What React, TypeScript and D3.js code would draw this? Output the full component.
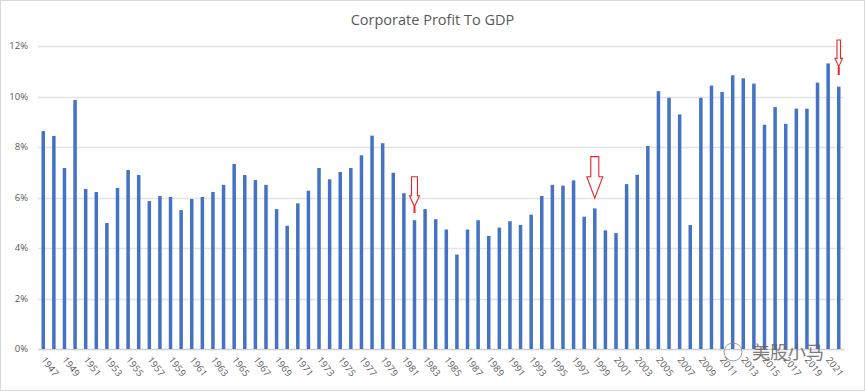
import * as d3 from "d3";
import React, { useEffect, useRef } from "react";

const years = d3.range(1947, 2023);
const profitToGdp = [
  8.63, 8.44, 7.17, 9.86, 6.34, 6.22, 4.99, 6.38, 7.09, 6.89,
  5.86, 6.06, 6.02, 5.5, 5.94, 6.02, 6.22, 6.5, 7.33, 6.89,
  6.69, 6.5, 5.54, 4.88, 5.77, 6.27, 7.17, 6.72, 7.01, 7.17,
  7.67, 8.45, 8.15, 6.98, 6.17, 5.1, 5.54, 5.14, 4.73, 3.74,
  4.73, 5.1, 4.48, 4.81, 5.06, 4.91, 5.32, 6.06, 6.5, 6.47,
  6.68, 5.24, 5.57, 4.7, 4.59, 6.53, 6.9, 8.04, 10.21, 9.95,
  9.29, 4.91, 9.95, 10.43, 10.18, 10.84, 10.72, 10.51, 8.88, 9.58,
  8.92, 9.52, 9.52, 10.55, 11.31, 10.39,
];
const yTicks = [0, 2, 4, 6, 8, 10, 12];

// red "look here" arrows (value units for top / neck / tip)
const arrowYears = [1982, 1999, 2022];
const arrowTop = [6.82, 7.62, 12.24];
const arrowNeck = [6.07, 6.82, 11.51];
const arrowTip = [5.64, 5.97, 11.18];
const arrowTail = [5.39, 5.97, 10.85];
const arrowShaft = [6, 8, 3.5];
const arrowHead = [10, 16, 7.5];

export default function App() {
  const ref = useRef<SVGSVGElement>(null);

  useEffect(() => {
    const width = 865, height = 391;
    const margin = { top: 46, right: 21, bottom: 42, left: 38 };

    const svg = d3.select(ref.current);
    svg.selectAll("*").remove();

    svg.append("rect")
      .attr("x", 0.5).attr("y", 0.5)
      .attr("width", width - 1).attr("height", height - 1)
      .attr("fill", "#fff")
      .attr("stroke", "#d9d9d9");

    const x = d3.scaleBand<number>()
      .domain(years)
      .range([margin.left, width - margin.right])
      .paddingInner(0.67)
      .paddingOuter(0.33);

    const y = d3.scaleLinear()
      .domain([0, 12])
      .range([height - margin.bottom, margin.top]);

    svg.append("text")
      .attr("x", width / 2)
      .attr("y", 25)
      .attr("text-anchor", "middle")
      .attr("font-family", "Open Sans, sans-serif")
      .attr("font-size", 14.5)
      .attr("fill", "#595959")
      .text("Corporate Profit To GDP");

    // gridlines + y labels
    const grid = svg.append("g");
    grid.selectAll("line")
      .data(yTicks)
      .join("line")
      .attr("x1", margin.left)
      .attr("x2", width - margin.right)
      .attr("y1", d => Math.round(y(d)) + 0.5)
      .attr("y2", d => Math.round(y(d)) + 0.5)
      .attr("stroke", d => (d === 0 ? "#d0d0d0" : "#e3e3e3"))
      .attr("stroke-width", 1.5);

    grid.selectAll("text")
      .data(yTicks)
      .join("text")
      .attr("x", 28)
      .attr("y", d => y(d))
      .attr("dy", "0.35em")
      .attr("text-anchor", "end")
      .attr("font-family", "Open Sans, sans-serif")
      .attr("font-size", 9.5)
      .attr("fill", "#595959")
      .text(d => d + "%");

    // bars
    svg.append("g")
      .selectAll("rect")
      .data(profitToGdp)
      .join("rect")
      .attr("x", (d, i) => x(years[i])!)
      .attr("y", d => y(d))
      .attr("width", x.bandwidth())
      .attr("height", d => y(0) - y(d))
      .attr("fill", "#4472c4");

    // x labels, every other year, rotated
    svg.append("g")
      .selectAll("text")
      .data(years.filter((d, i) => i % 2 === 0))
      .join("text")
      .attr("transform", d => `translate(${x(d)! + x.bandwidth() / 2},${y(0) + 9}) rotate(52)`)
      .attr("font-family", "Open Sans, sans-serif")
      .attr("font-size", 9.5)
      .attr("fill", "#595959")
      .attr("dy", "0.35em")
      .text(d => d);

    // arrows
    const arrows = svg.append("g");
    arrowYears.forEach((yr, i) => {
      const cx = x(yr)! + x.bandwidth() / 2;
      const s = arrowShaft[i] / 2, h = arrowHead[i] / 2;
      const p = d3.path();
      p.moveTo(cx - s, y(arrowTop[i]));
      p.lineTo(cx + s, y(arrowTop[i]));
      p.lineTo(cx + s, y(arrowNeck[i]));
      p.lineTo(cx + h, y(arrowNeck[i]));
      p.lineTo(cx, y(arrowTip[i]));
      p.lineTo(cx - h, y(arrowNeck[i]));
      p.lineTo(cx - s, y(arrowNeck[i]));
      p.closePath();
      arrows.append("path")
        .attr("d", p.toString())
        .attr("fill", "#fff")
        .attr("stroke", "#e8262b")
        .attr("stroke-width", 1.1);
      if (arrowTail[i] < arrowTip[i]) {
        arrows.append("line")
          .attr("x1", cx).attr("x2", cx)
          .attr("y1", y(arrowTip[i])).attr("y2", y(arrowTail[i]))
          .attr("stroke", "#e8262b")
          .attr("stroke-width", 2);
      }
    });

    // watermark
    const wm = svg.append("g").attr("opacity", 0.85);
    wm.append("circle")
      .attr("cx", 733).attr("cy", 352).attr("r", 9)
      .attr("fill", "none").attr("stroke", "#8c8c8c").attr("stroke-width", 1);
    wm.append("text")
      .attr("x", 752).attr("y", 359)
      .attr("font-family", "Noto Sans CJK SC, sans-serif")
      .attr("font-size", 18)
      .attr("fill", "#666")
      .text("美股小马");
  }, []);

  return (
    <svg ref={ref} width={865} height={391}
      style={{ position: "absolute", left: 0, top: 0, display: "block" }} />
  );
}
